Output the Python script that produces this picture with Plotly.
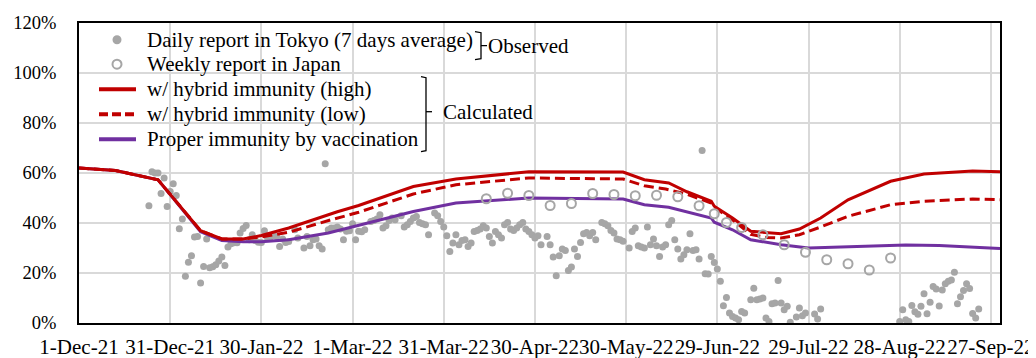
import datetime as dt
import plotly.graph_objects as go

START = dt.date(2021, 12, 1)

# ---- data (day offsets from 1-Dec-21, values in %) ----
tick_dates = ["2021-12-01", "2021-12-31", "2022-01-30", "2022-03-01", "2022-03-31", "2022-04-30",
              "2022-05-30", "2022-06-29", "2022-07-29", "2022-08-28", "2022-09-27"]
tick_labels = ["1-Dec-21", "31-Dec-21", "30-Jan-22", "1-Mar-22", "31-Mar-22", "30-Apr-22",
               "30-May-22", "29-Jun-22", "29-Jul-22", "28-Aug-22", "27-Sep-22"]

tokyo_day = [23, 24, 25, 26, 27, 28, 29, 30, 31, 32, 33, 34, 35, 36, 37, 38, 39, 40, 41, 42, 43, 44, 45, 46, 47,
             48, 49, 50, 51, 52, 53, 54, 55, 56, 57, 58, 59, 60, 61, 62, 63, 64, 65, 66, 67, 68, 69, 71, 72, 74,
             75, 76, 77, 78, 79, 80, 81, 82, 83, 84, 85, 86, 87, 88, 89, 90, 91, 92, 93, 94, 96, 97, 98, 99, 100,
             101, 102, 103, 104, 106, 107, 108, 109, 110, 111, 112, 113, 114, 115, 117, 118, 119, 120, 121, 122,
             123, 124, 125, 126, 127, 128, 129, 130, 131, 132, 133, 134, 135, 136, 137, 138, 139, 140, 141, 142,
             143, 144, 145, 146, 147, 148, 149, 150, 151, 152, 154, 155, 156, 157, 158, 159, 160, 161, 162, 163,
             164, 165, 166, 167, 168, 169, 170, 172, 173, 174, 175, 176, 177, 178, 179, 181, 182, 183, 184, 185,
             186, 187, 188, 189, 190, 191, 192, 193, 194, 195, 196, 197, 198, 199, 200, 201, 202, 203, 204, 205,
             206, 207, 208, 209, 210, 211, 212, 213, 214, 215, 216, 217, 218, 219, 221, 222, 223, 224, 225, 226,
             227, 228, 229, 230, 231, 232, 233, 234, 236, 237, 238, 239, 242, 243, 244,
             270, 271, 272, 273, 274, 275, 276, 277, 278, 279, 280, 281, 282, 283, 284, 285, 286, 287, 288, 289,
             290, 291, 292, 293, 294, 295, 296]
tokyo_pct = [46.9, 60.5, 60.0, 60.0, 51.8, 58.0, 46.6, 52.6, 55.7, 51.0, 37.7, 41.6, 18.7, 24.3, 26.9, 34.4, 34.6,
             16.0, 22.6, 33.6, 22.1, 22.5, 23.3, 24.8, 26.4,
             23.0, 30.4, 31.7, 32.1, 32.1, 36.0, 37.8, 39.0, 33.3, 35.3, 33.0, 32.3, 32.2, 36.9, 34.0, 34.4, 35.0,
             34.6, 30.6, 33.6, 32.2, 32.6, 37.3, 34.0, 30.0,
             34.6, 30.9, 33.3, 33.6, 30.9, 29.6, 63.7, 37.3, 38.0, 38.0, 38.4, 37.6, 33.3, 36.7, 36.9, 39.7, 33.3,
             36.7, 36.5, 37.3, 40.6, 41.0, 41.6, 43.3, 38.0,
             38.9, 41.0, 42.0, 41.3, 42.9, 38.4, 39.3, 40.6, 42.0, 42.6, 40.2, 39.7, 39.3, 35.3, 44.0, 42.9, 40.6,
             38.4, 34.9, 28.6,
             32.0, 35.3, 31.3, 33.0, 33.3, 30.6, 32.0, 36.6, 37.0, 37.6, 38.9, 38.0, 34.6, 32.0, 36.6, 35.3, 34.0,
             39.3, 40.2, 37.6,
             37.0, 38.0, 39.3, 40.2, 37.6, 36.6, 35.3, 34.0, 34.9, 31.3, 34.6, 31.3, 26.4, 18.9, 26.9, 29.6, 29.0,
             21.0, 22.4, 29.6,
             26.6, 32.2, 35.7, 36.2, 34.9, 36.2, 33.3, 40.2, 39.7, 38.9, 37.0, 36.0, 33.6, 33.3, 32.7, 30.0, 36.6,
             38.0, 30.9, 30.4,
             30.0, 38.4, 31.3, 33.6, 30.9, 26.6, 30.4, 31.3, 39.3, 41.0, 33.3, 29.6, 25.6, 27.3, 29.3, 35.7, 29.0,
             29.3, 25.6, 69.0,
             19.7, 19.6, 26.6, 24.2, 21.6, 16.7, 6.9, 10.2, 4.0, 2.6, 2.0, 1.3, 4.6, 4.0, 9.3, 13.9, 9.3, 9.6, 10.0,
             2.0,
             0.6, 7.7, 8.0, 17.0, 8.0, 5.3, 6.7, 0.3, 2.4, 6.0, 2.9, 4.0, 3.6, 1.6, 5.6,
             0.6, 5.3, 1.3, 0.6, 7.0, 4.5, 3.5, 6.7, 11.7, 3.7, 8.3, 14.6, 13.6, 6.8, 13.2, 15.7, 16.7, 17.2, 20.3,
             7.7, 10.5, 13.0, 15.7, 13.8, 3.8, 2.0, 5.6]

japan_day = [134, 141, 148, 155, 162, 169, 176, 183, 190, 197, 204, 209, 213, 218, 225, 232, 239, 246, 253, 260, 267]
japan_pct = [49.7, 51.9, 51.0, 47.0, 47.8, 51.8, 51.4, 50.9, 51.1, 50.5, 46.9, 43.7, 40.2, 38.2, 35.3, 31.3, 28.3,
             25.3, 23.7, 21.2, 26.0]

high_day = [0, 12, 26, 40, 47, 54, 60, 69, 85, 92, 110, 124, 148, 179, 186, 194, 200, 208, 209, 215, 221, 231, 237,
            244, 253, 267, 278, 294, 303]
high_pct = [62, 61, 57.3, 36.9, 33.6, 33.6, 35, 38, 44.5, 47, 54.6, 57.6, 60.5, 60.4, 57.3, 56, 52.5, 48.7, 46.7,
            42, 36.7, 35.7, 37.6, 42, 49.3, 56.7, 59.6, 60.8, 60.5]

low_day = [0, 12, 26, 40, 47, 54, 60, 69, 83, 92, 110, 124, 148, 179, 186, 193, 200, 208, 210, 215, 221, 226, 231,
           237, 244, 253, 267, 278, 294, 303]
low_pct = [62, 61, 57.3, 36.9, 33.6, 33.6, 34.4, 36.3, 41.3, 44.3, 51.6, 55.3, 58, 57.6, 54.9, 53.6, 51.5, 48, 45.5,
           41.3, 35.5, 34.2, 34, 35.3, 38.4, 42.7, 47.3, 48.7, 49.6, 49.3]

vacc_day = [0, 12, 26, 40, 47, 54, 60, 69, 82, 92, 110, 124, 148, 179, 186, 194, 208, 209, 215, 221, 231, 240, 256,
            272, 283, 303]
vacc_pct = [62, 61, 57.3, 36.5, 33, 32.5, 32.5, 33.3, 36, 39, 44.6, 48, 50, 49.6, 47.3, 46.3, 42, 40.3, 37.3, 33.3,
            31.3, 30, 30.7, 31.2, 31, 29.8]

legend_labels = ["Daily report in Tokyo (7 days average)", "Weekly report in Japan",
                 "w/ hybrid immunity (high)", "w/ hybrid immunity (low)", "Proper immunity by vaccination"]
group_labels = ["Observed", "Calculated"]

# ---- styles ----
RED = "#C00000"
PURPLE = "#7030A0"
GRAY = "#A6A6A6"
FONT = "Liberation Serif"
DASH = "10px,5px"


def to_dates(days):
    return [START + dt.timedelta(days=d) for d in days]


def frac(v):
    return [x / 100 for x in v]


fig = go.Figure()
fig.add_trace(go.Scatter(x=to_dates(tokyo_day), y=frac(tokyo_pct), mode="markers",
                         marker=dict(color=GRAY, size=7), showlegend=False))
fig.add_trace(go.Scatter(x=to_dates(vacc_day), y=frac(vacc_pct), mode="lines",
                         line=dict(color=PURPLE, width=3), showlegend=False))
fig.add_trace(go.Scatter(x=to_dates(low_day), y=frac(low_pct), mode="lines",
                         line=dict(color=RED, width=3, dash=DASH), showlegend=False))
fig.add_trace(go.Scatter(x=to_dates(high_day), y=frac(high_pct), mode="lines",
                         line=dict(color=RED, width=3), showlegend=False))
fig.add_trace(go.Scatter(x=to_dates(japan_day), y=frac(japan_pct), mode="markers",
                         marker=dict(symbol="circle-open", color=GRAY, size=9, line=dict(width=2)),
                         showlegend=False))

# ---- manual legend (page-pixel positions converted to paper coords) ----
L, R, T, B = 79, 1000, 23.3, 323.3


def px(x):
    return (x - L) / (R - L)


def py(y):
    return (B - y) / (B - T)


shapes = []
annotations = []
row_y = [40, 64.5, 89.5, 114.5, 139.5]
for i, filled in [(0, True), (1, False)]:
    r = 4.5
    shapes.append(dict(type="circle", xref="paper", yref="paper",
                       x0=px(117 - r), x1=px(117 + r), y0=py(row_y[i] + r), y1=py(row_y[i] - r),
                       fillcolor=GRAY if filled else "rgba(0,0,0,0)",
                       line=dict(color=GRAY, width=0 if filled else 2)))
for i, col, dash in [(2, RED, "solid"), (3, RED, "9px,4px"), (4, PURPLE, "solid")]:
    shapes.append(dict(type="line", xref="paper", yref="paper",
                       x0=px(99), x1=px(136), y0=py(row_y[i]), y1=py(row_y[i]),
                       line=dict(color=col, width=4, dash=dash)))
for i, lab in enumerate(legend_labels):
    annotations.append(dict(text=lab, xref="paper", yref="paper", x=px(145), y=py(row_y[i]),
                            xanchor="left", yanchor="middle", showarrow=False,
                            font=dict(family=FONT, size=21, color="black")))


def path(pts):
    return "M " + " L ".join(f"{px(a):.5f},{py(b):.5f}" for a, b in pts)


shapes.append(dict(type="path", xref="paper", yref="paper",
                   path=path([(475, 32), (481, 33), (481, 46), (487, 46)]),
                   line=dict(color="black", width=1.3)))
shapes.append(dict(type="path", xref="paper", yref="paper",
                   path=path([(481, 46), (481, 59), (475, 60)]),
                   line=dict(color="black", width=1.3)))
annotations.append(dict(text=group_labels[0], xref="paper", yref="paper", x=px(486), y=py(46),
                        xanchor="left", yanchor="middle", showarrow=False,
                        font=dict(family=FONT, size=21, color="black")))
shapes.append(dict(type="path", xref="paper", yref="paper",
                   path=path([(421, 77), (426, 78), (426, 151), (421, 152)]),
                   line=dict(color="black", width=1.3)))
shapes.append(dict(type="path", xref="paper", yref="paper",
                   path=path([(426, 112), (432, 112)]),
                   line=dict(color="black", width=1.3)))
annotations.append(dict(text=group_labels[1], xref="paper", yref="paper", x=px(441), y=py(112),
                        xanchor="left", yanchor="middle", showarrow=False,
                        font=dict(family=FONT, size=21, color="black")))

# the page body adds an 8px offset, so the figure is 8px smaller and margins compensate
fig.update_layout(
    width=1028, height=350,
    margin=dict(l=71, r=36, t=15, b=35),
    paper_bgcolor="white", plot_bgcolor="white",
    shapes=shapes, annotations=annotations,
    showlegend=False,
    font=dict(family=FONT, color="black"),
)
fig.update_xaxes(type="date", range=["2021-12-01", "2022-09-30"],
                 tickvals=tick_dates, ticktext=tick_labels, tickfont=dict(size=21, family=FONT),
                 tickangle=0, automargin=False,
                 showgrid=True, gridcolor="#D9D9D9", gridwidth=1.5,
                 showline=True, linecolor="black", linewidth=2, mirror=True,
                 ticks="", ticklabelstandoff=4, zeroline=False)
fig.update_yaxes(range=[0, 1.2], tickvals=[0, 0.2, 0.4, 0.6, 0.8, 1.0, 1.2], tickformat=".0%",
                 tickfont=dict(size=18.5, family=FONT), automargin=False,
                 showgrid=True, gridcolor="#D9D9D9", gridwidth=1.5,
                 showline=True, linecolor="black", linewidth=2, mirror=True,
                 ticks="", ticklabelstandoff=17, zeroline=False)

fig.write_html("out.html")
